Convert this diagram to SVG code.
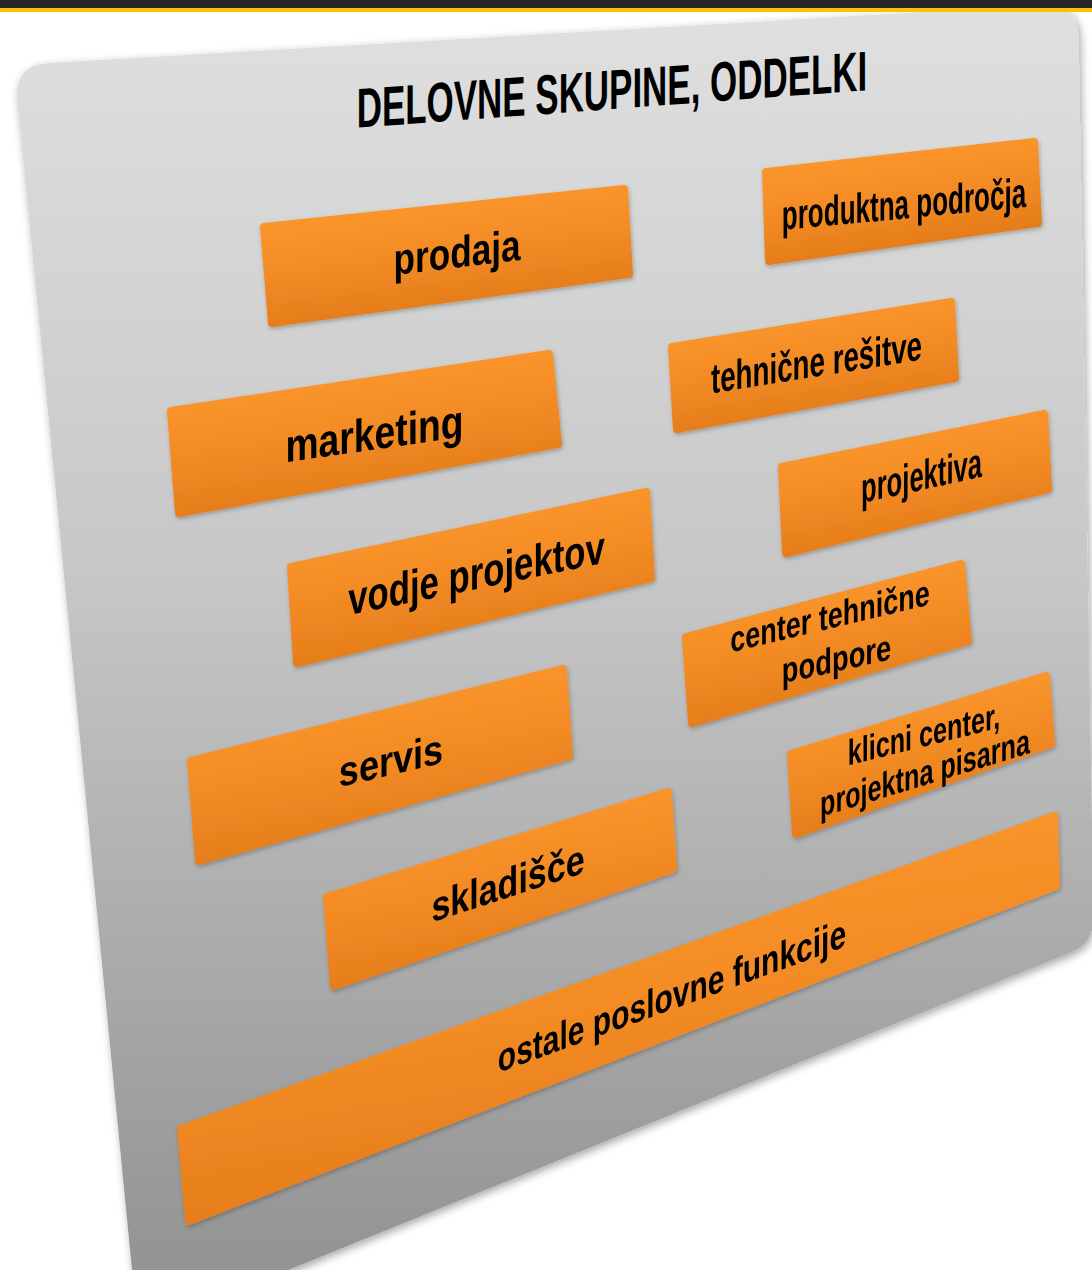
<svg xmlns="http://www.w3.org/2000/svg" width="1092" height="1270" viewBox="0 0 1092 1270">
  <style>
    .box { fill: url(#og); stroke: url(#og); stroke-width: 8; stroke-linejoin: round; }
    .lbl { font-family: "Liberation Sans", Arial, sans-serif; font-weight: bold; fill: #000; text-anchor: middle; }
  </style>
  <defs>
    <linearGradient id="pg" gradientUnits="userSpaceOnUse" x1="0" y1="0" x2="0" y2="1270">
      <stop offset="0" stop-color="#e0e0e0"/>
      <stop offset="0.45" stop-color="#c7c7c7"/>
      <stop offset="1" stop-color="#939393"/>
    </linearGradient>
    <linearGradient id="og" x1="0" y1="0" x2="0.35" y2="1">
      <stop offset="0" stop-color="#ff9c31"/>
      <stop offset="0.55" stop-color="#f48c25"/>
      <stop offset="1" stop-color="#e27a1a"/>
    </linearGradient>
    <filter id="sh" x="-5%" y="-5%" width="115%" height="115%">
      <feDropShadow dx="2" dy="3" stdDeviation="4" flood-color="#000" flood-opacity="0.35"/>
    </filter>
    <filter id="bs" x="-5%" y="-10%" width="110%" height="130%">
      <feDropShadow dx="1" dy="2" stdDeviation="2" flood-color="#000" flood-opacity="0.25"/>
    </filter>
  </defs>

  <rect width="1092" height="1270" fill="#ffffff"/>

  <g id="panel">
    <path d="M 49 63 L 1043 5 Q 1078 3 1078.6 38 L 1093.6 918 Q 1094 943 1070.8 952.4 L 138 1331 L 17.4 99.8 Q 14 65 49 63 Z" fill="url(#pg)" filter="url(#sh)"/>
  </g>

  <g id="topbar">
    <rect x="0" y="0" width="1092" height="8" fill="#262626"/>
    <rect x="0" y="8" width="1092" height="4" fill="#ffc000"/>
  </g>

  <g id="title">
    <text class="lbl" font-size="56" transform="translate(612 109) skewY(-4.2) scale(0.624 1)">DELOVNE SKUPINE, ODDELKI</text>
  </g>

  <g id="connectors"></g>

  <g id="prodaja" filter="url(#bs)">
    <polygon class="box" points="264,227 624,189 629,274 272,323"/>
    <text class="lbl" font-size="44" transform="translate(457 267.5) skewY(-6.8) scale(0.8 1)">prodaja</text>
  </g>

  <g id="produktna" filter="url(#bs)">
    <polygon class="box" points="766,172 1034,142 1038,223 769,261"/>
    <text class="lbl" font-size="42" transform="translate(904 218.5) skewY(-5.4) scale(0.62 1)">produktna področja</text>
  </g>

  <g id="marketing" filter="url(#bs)">
    <polygon class="box" points="171,411 549,354 558,444 179,513"/>
    <text class="lbl" font-size="46" transform="translate(374.5 449.5) skewY(-8.1) scale(0.81 1)">marketing</text>
  </g>

  <g id="tehnicne" filter="url(#bs)">
    <polygon class="box" points="672,347 951,302 955,378 677,429"/>
    <text class="lbl" font-size="42" transform="translate(816.5 376.5) skewY(-9.1) scale(0.66 1)">tehnične rešitve</text>
  </g>

  <g id="projektiva" filter="url(#bs)">
    <polygon class="box" points="782,467 1044,414 1048,489 786,553"/>
    <text class="lbl" font-size="42" transform="translate(921.5 490) skewY(-12.4) scale(0.61 1)">projektiva</text>
  </g>

  <g id="vodje" filter="url(#bs)">
    <polygon class="box" points="291,567 646,492 651,578 297,663"/>
    <text class="lbl" font-size="46" transform="translate(476.5 589) skewY(-11.6) scale(0.755 1)">vodje projektov</text>
  </g>

  <g id="center" filter="url(#bs)">
    <polygon class="box" points="686,637 961,564 968,641 692,723"/>
    <text class="lbl" font-size="36" transform="translate(830 628.5) skewY(-13.5) scale(0.75 1)">center tehnične</text>
    <text class="lbl" font-size="36" transform="translate(836.5 671.5) skewY(-12.5) scale(0.76 1)">podpore</text>
  </g>

  <g id="klicni" filter="url(#bs)">
    <polygon class="box" points="791,754 1046,676 1051,744 796,834"/>
    <text class="lbl" font-size="36" transform="translate(924 746.5) skewY(-14) scale(0.70 1)">klicni center,</text>
    <text class="lbl" font-size="36" transform="translate(925 785) skewY(-17) scale(0.70 1)">projektna pisarna</text>
  </g>

  <g id="servis" filter="url(#bs)">
    <polygon class="box" points="191,761 563,669 569,756 199,861"/>
    <text class="lbl" font-size="42" transform="translate(391 775) skewY(-13.2) scale(0.86 1)">servis</text>
  </g>

  <g id="skladisce" filter="url(#bs)">
    <polygon class="box" points="327,897 668,792 673,869 334,986"/>
    <text class="lbl" font-size="42" transform="translate(508 897.5) skewY(-18.1) scale(0.81 1)">skladišče</text>
  </g>

  <g id="ostale" filter="url(#bs)">
    <polygon class="box" points="181,1129 1054,816 1056,886 189,1221"/>
    <text class="lbl" font-size="40" transform="translate(672 1009.5) skewY(-20) scale(0.75 1)">ostale poslovne funkcije</text>
  </g>
</svg>
